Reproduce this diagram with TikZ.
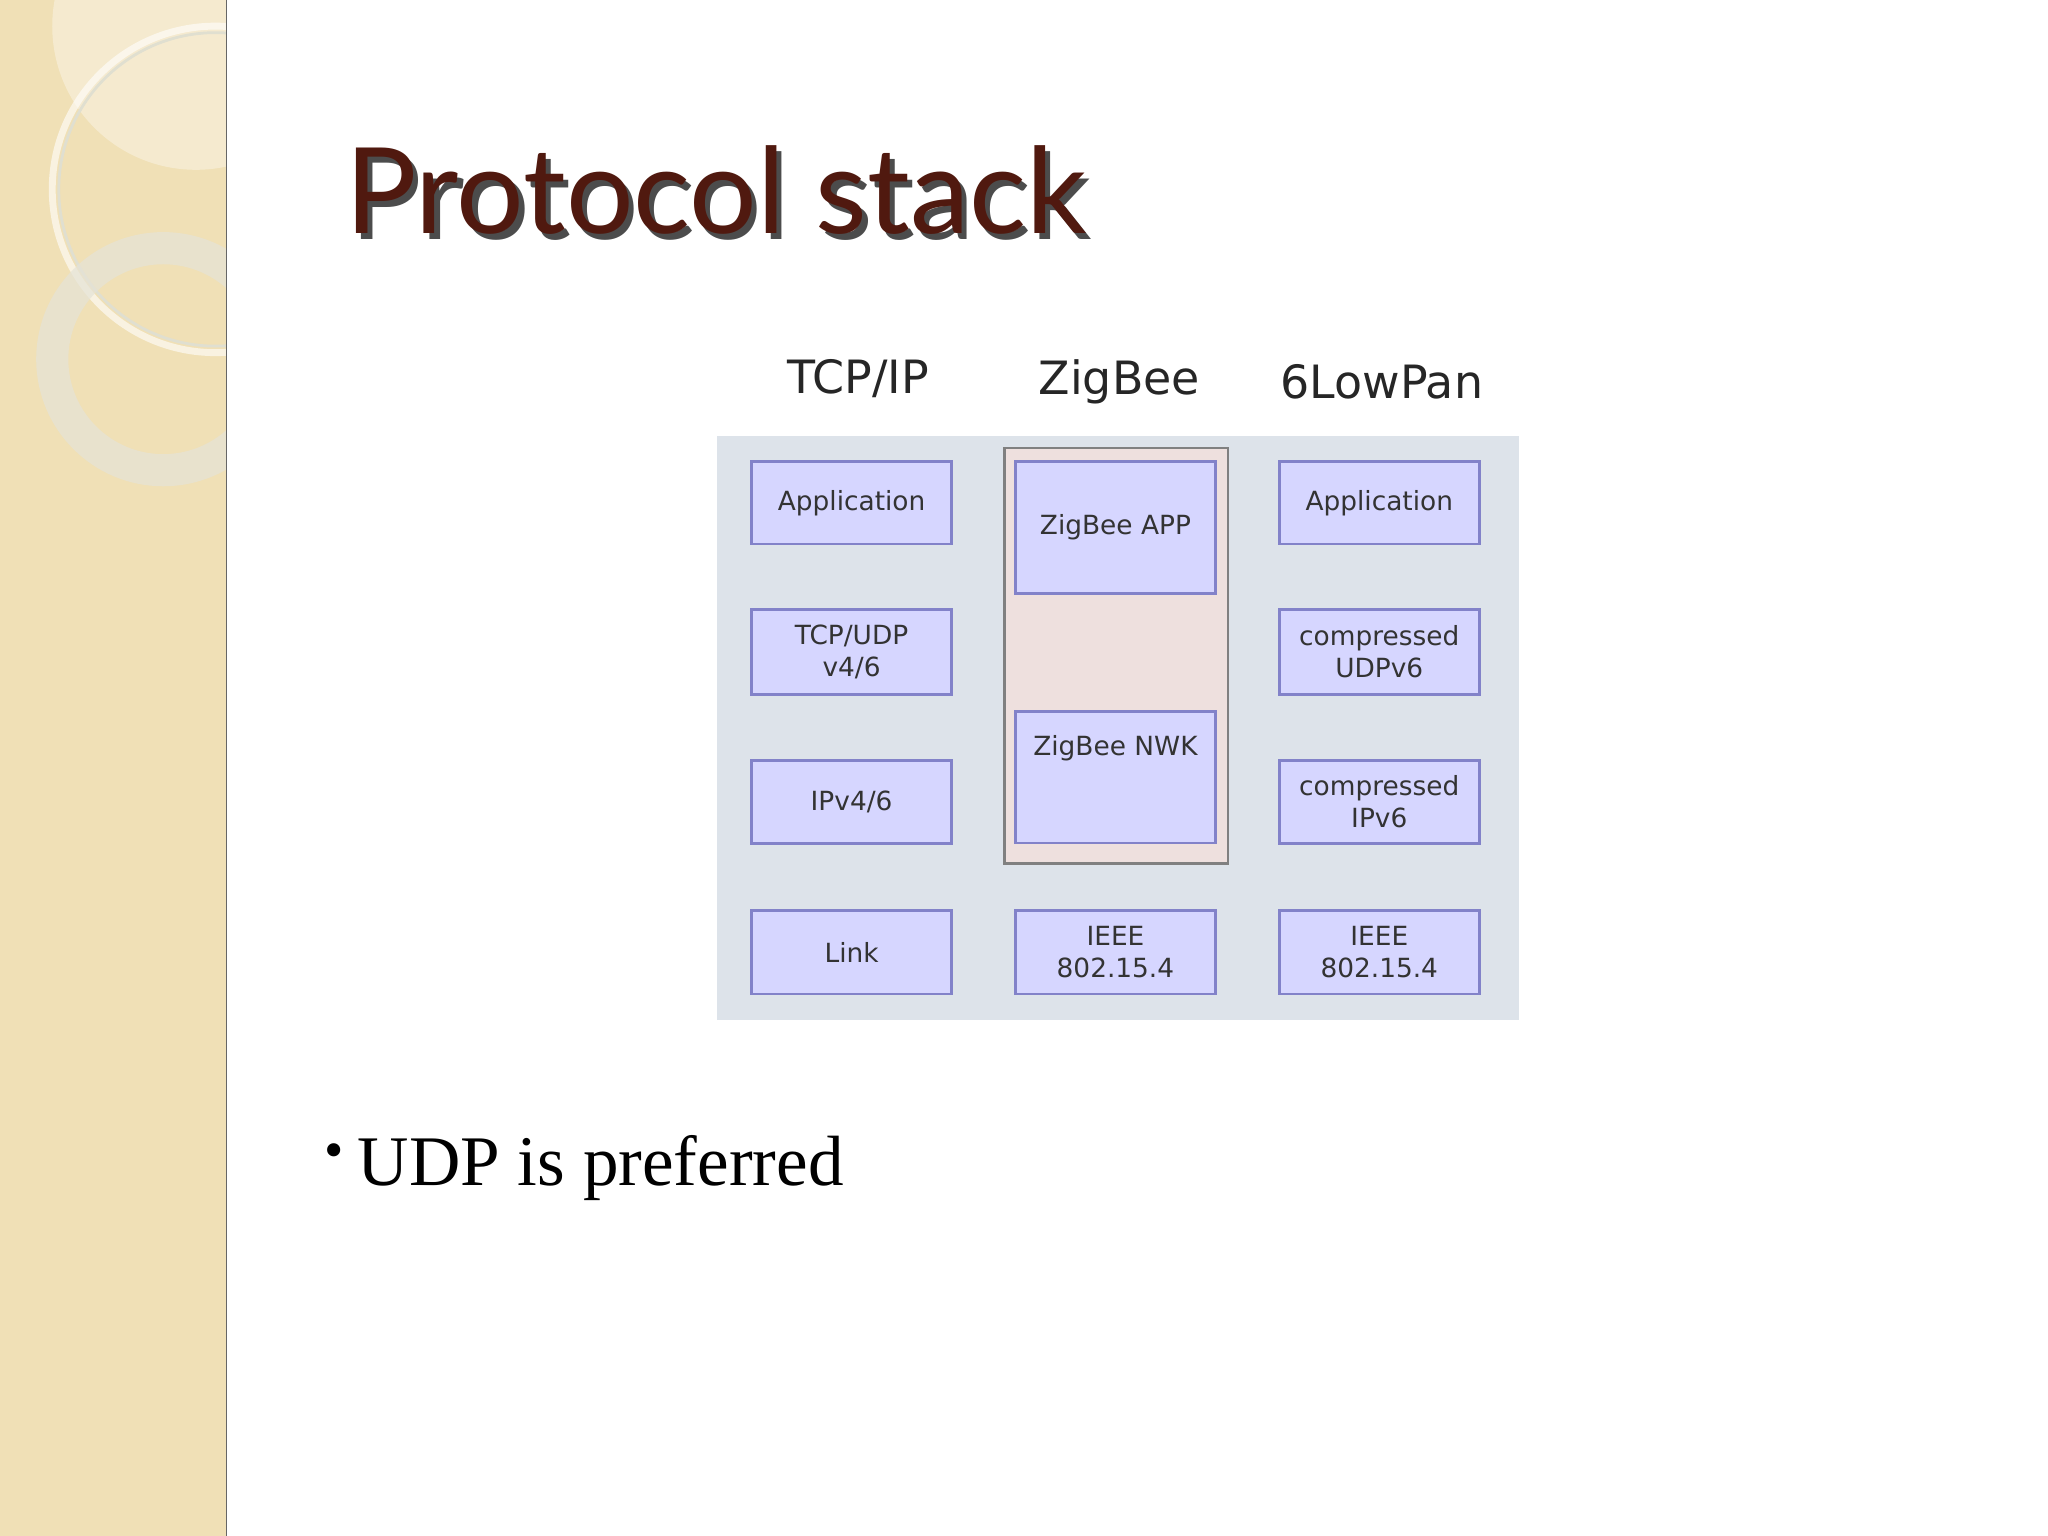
\documentclass[tikz,border=0pt]{standalone}
\usepackage{fontspec}
\setmainfont{Liberation Serif}
\newfontfamily\dv{DejaVu Sans}
\newfontfamily\ttl{Lato}
\definecolor{strip}{RGB}{240,224,182}
\definecolor{panel}{RGB}{221,227,234}
\definecolor{pink}{RGB}{238,224,222}
\begin{document}
\begin{tikzpicture}[x=0.02cm,y=-0.02cm,
  lay/.style={draw=blue!40!gray!70,line width=1.2pt,fill=blue!16!white,minimum width=3.06cm,inner sep=0pt,align=center,font=\dv\fontsize{11.5}{14}\selectfont,text=black!80},
  hdr/.style={font=\dv\fontsize{20}{24}\selectfont,text=black!85}]
\useasboundingbox (0,0) rectangle (1568,1176);
\fill[white] (0,0) rectangle (1568,1176);
\fill[strip] (0,0) rectangle (173,1176);
\draw[black!60] (173,0) -- (173,1176);
\begin{scope}
\clip (0,0) rectangle (173,1176);
\fill[white,opacity=0.35] (150,20) circle (110);
\draw[white,opacity=0.6,line width=3pt] (165,145) circle (125);
\draw[yellow!20!gray!35,line width=1.2pt] (165,145) circle (120);
\draw[yellow!20!gray!30,line width=14pt,opacity=0.7] (125,275) circle (85);
\end{scope}
\node[anchor=base west,font=\ttl\fontsize{52}{56}\selectfont,text=black!70,inner sep=0] at (268,183) {Protocol stack};
\node[anchor=base west,font=\ttl\fontsize{52}{56}\selectfont,text={rgb,255:red,80;green,25;blue,15},inner sep=0] (title) at (264,179) {Protocol stack};
\fill[panel] (549,334) rectangle (1163,781);
\draw[gray,line width=1pt,fill=pink] (769,343) rectangle (940,661);
\node[hdr] (h1) at (657,290) {TCP/IP};
\node[hdr] (h2) at (857,292) {ZigBee};
\node[hdr] (h3) at (1058,292) {6LowPan};
\node[lay,minimum height=1.26cm] (a1) at (652,385) {Application};
\node[lay,minimum height=1.3cm] (a2) at (652,499) {TCP/UDP\\v4/6};
\node[lay,minimum height=1.28cm] (a3) at (652,614) {IPv4/6};
\node[lay,minimum height=1.28cm] (a4) at (652,729) {Link};
\node[lay,minimum height=2.02cm] (b1) at (854,404) {ZigBee APP};
\node[lay,minimum height=2.02cm] (b2) at (854,595) {ZigBee NWK\\[1.2em]};
\node[lay,minimum height=1.28cm] (b3) at (854,729) {IEEE\\802.15.4};
\node[lay,minimum height=1.26cm] (c1) at (1056,385) {Application};
\node[lay,minimum height=1.3cm] (c2) at (1056,499) {compressed\\UDPv6};
\node[lay,minimum height=1.28cm] (c3) at (1056,614) {compressed\\IPv6};
\node[lay,minimum height=1.28cm] (c4) at (1056,729) {IEEE\\802.15.4};
\node[anchor=base west,font=\fontsize{31}{36}\selectfont,inner sep=0] (bul) at (248,908) {\raisebox{0.25em}{\fontsize{24}{26}\selectfont\textbullet}\hspace{0.2em}UDP is preferred};
\end{tikzpicture}
\end{document}
